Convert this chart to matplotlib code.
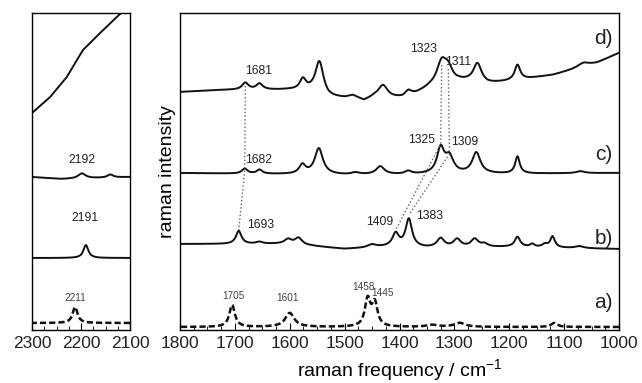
import numpy as np
import matplotlib
matplotlib.use("Agg")
import matplotlib.pyplot as plt
from matplotlib.ticker import MultipleLocator

plt.rcParams['font.family'] = ['Liberation Sans', 'DejaVu Sans']
plt.rcParams['mathtext.fontset'] = 'custom'
plt.rcParams['mathtext.rm'] = 'Liberation Sans'

# ---- panneau droit (1800-1000 cm-1), intensites en unites arbitraires ----
# spectre d)
d_fond_x = [1800, 1720, 1600, 1560, 1530, 1500, 1485, 1465, 1445, 1415, 1395, 1370,
            1345, 1290, 1275, 1240, 1210, 1170, 1120, 1080, 1040, 1000]
d_fond_y = [238, 240, 240, 238, 232, 232, 234, 229, 233, 232, 232, 236,
            242, 248, 248, 246, 248, 251, 255, 261, 267, 277]
d_pos = [1681, 1655, 1576, 1546, 1430, 1384, 1323, 1311, 1258, 1185, 1065]
d_haut = [7, 6, 11, 33, 12, 5, 23, 12, 19, 15, 4]
d_larg = [7, 7, 7, 9, 10, 7, 11, 9, 9, 6, 12]

# spectre c)
c_fond_x = [1800, 1500, 1000]
c_fond_y = [157, 155, 157]
c_pos = [1682, 1655, 1577, 1547, 1480, 1435, 1384, 1325, 1309, 1260, 1185, 1070]
c_haut = [5, 4, 9, 26, 2, 8, 3, 25, 16, 21, 17, 2]
c_larg = [6, 6, 7, 9, 9, 9, 7, 8, 9, 9, 5, 9]

# spectre b)
b_fond_x = [1800, 1620, 1560, 1500, 1460, 1420, 1350, 1200, 1100, 1000]
b_fond_y = [86, 86, 84, 81, 82, 83, 82, 83, 82, 81]
b_pos = [1693, 1655, 1603, 1584, 1450, 1407, 1383, 1325, 1295, 1263, 1245,
         1185, 1158, 1135, 1121, 1072]
b_haut = [13, 2, 5, 7, 3, 13, 28, 9, 8, 8, 3, 10, 3, 3, 11, 2]
b_larg = [6, 7, 8, 8, 9, 7, 7, 8, 8, 8, 7, 6, 5, 6, 5, 9]

# spectre a) (pointille)
a_fond_x = [1800, 1000]
a_fond_y = [3, 3]
a_pos = [1705, 1600, 1458, 1445, 1340, 1290, 1118]
a_haut = [22, 14, 27, 23, 2, 4, 4]
a_larg = [6, 10, 6, 6, 12, 12, 7]

# ---- panneau gauche (2300-2100 cm-1) ----
gd_x = [2300, 2263, 2229, 2196, 2161, 2127, 2100]
gd_y = [217, 233, 253, 280, 297, 313, 325]

gc_fond_x = [2300, 2240, 2100]
gc_fond_y = [153, 151, 153]
gc_pos = [2198, 2140]
gc_haut = [5, 3]
gc_larg = [9, 7]

gb_fond_x = [2300, 2100]
gb_fond_y = [72, 72]
gb_pos = [2190]
gb_haut = [13]
gb_larg = [6]

ga_fond_x = [2300, 2100]
ga_fond_y = [7, 7]
ga_pos = [2212]
ga_haut = [16]
ga_larg = [6]

# etiquettes des pics : texte, position, intensite
pics_txt = ["1681", "1682", "1693", "1323", "1311", "1325", "1309", "1409", "1383"]
pics_x = [1656, 1656, 1653, 1356, 1293, 1360, 1282, 1436, 1345]
pics_y = [259, 170, 105, 281, 268, 190, 188, 108, 114]

pics_a_txt = ["1705", "1601", "1458", "1445"]
pics_a_x = [1702, 1604, 1465, 1431]
pics_a_y = [34, 32, 43, 37]

gauche_txt = ["2192", "2191"]
gauche_x = [2198, 2192]
gauche_y = [170, 112]

lettres = ["d)", "c)", "b)", "a)"]
lettres_y = [292, 175, 92, 27]

# lignes pointillees reliant les pics
lien1_x = [1681, 1682, 1693]
lien1_y = [244, 160, 100]
lien2_x = [1323, 1325, 1407]
lien2_y = [265, 186, 100]
lien3_x = [1311, 1309, 1383]
lien3_y = [261, 176, 115]


def spectre(x, fond_x, fond_y, pos, haut, larg):
    """ligne de base + somme de lorentziennes"""
    ordre = np.argsort(fond_x)
    y = np.interp(x, np.array(fond_x)[ordre], np.array(fond_y)[ordre])
    for p, h, w in zip(pos, haut, larg):
        y = y + h / (1 + ((x - p) / w) ** 2)
    return y


def regler_axe(ax, xmin, xmax):
    ax.set_xlim(xmin, xmax)
    ax.set_ylim(0, 317)
    ax.set_yticks([])
    ax.xaxis.set_major_locator(MultipleLocator(100))
    ax.xaxis.set_minor_locator(MultipleLocator(25))
    ax.tick_params(axis='x', which='major', direction='in', length=5, labelsize=12.5,
                   pad=4, labelcolor='#222222')
    ax.tick_params(axis='x', which='minor', direction='in', length=3)
    for s in ax.spines.values():
        s.set_linewidth(1.0)


def main():
    fig = plt.figure(figsize=(6.42, 3.83), dpi=100)
    ax1 = fig.add_axes([32 / 642, 53 / 383, 98 / 642, 317 / 383])
    ax2 = fig.add_axes([180 / 642, 53 / 383, 439 / 642, 317 / 383])

    trait = dict(color='#111111', lw=1.4)
    tirets = dict(color='#111111', lw=1.8, linestyle=(0, (2.5, 1.2)))

    # panneau droit
    x = np.arange(1000, 1800.5, 1.0)
    ax2.plot(x, spectre(x, d_fond_x, d_fond_y, d_pos, d_haut, d_larg), **trait)
    ax2.plot(x, spectre(x, c_fond_x, c_fond_y, c_pos, c_haut, c_larg), **trait)
    ax2.plot(x, spectre(x, b_fond_x, b_fond_y, b_pos, b_haut, b_larg), **trait)
    ax2.plot(x, spectre(x, a_fond_x, a_fond_y, a_pos, a_haut, a_larg), **tirets)

    for lx, ly in [(lien1_x, lien1_y), (lien2_x, lien2_y), (lien3_x, lien3_y)]:
        ax2.plot(lx, ly, color='#666666', lw=1.0, linestyle=':')

    for t, px, py in zip(pics_txt, pics_x, pics_y):
        ax2.text(px, py, t, fontsize=8.7, color='#222222', ha='center', va='center')
    for t, px, py in zip(pics_a_txt, pics_a_x, pics_a_y):
        ax2.text(px, py, t, fontsize=7.2, color='#444444', ha='center', va='center')
    for t, py in zip(lettres, lettres_y):
        ax2.text(1028, py, t, fontsize=15, color='#222222', ha='center', va='center')

    regler_axe(ax2, 1800, 1000)
    ax2.set_xlabel("raman frequency / cm$^{-1}$", fontsize=14, labelpad=5)
    ax2.set_ylabel("raman intensity", fontsize=14, labelpad=3)

    # panneau gauche
    xg = np.arange(2100, 2300.5, 1.0)
    ax1.plot(gd_x, gd_y, **trait)
    ax1.plot(xg, spectre(xg, gc_fond_x, gc_fond_y, gc_pos, gc_haut, gc_larg), **trait)
    ax1.plot(xg, spectre(xg, gb_fond_x, gb_fond_y, gb_pos, gb_haut, gb_larg), **trait)
    ax1.plot(xg, spectre(xg, ga_fond_x, ga_fond_y, ga_pos, ga_haut, ga_larg), **tirets)
    for t, px, py in zip(gauche_txt, gauche_x, gauche_y):
        ax1.text(px, py, t, fontsize=8.7, color='#222222', ha='center', va='center')
    ax1.text(2212, 32, "2211", fontsize=7.2, color='#444444', ha='center', va='center')
    regler_axe(ax1, 2300, 2100)

    fig.savefig("out.png", dpi=100)


if __name__ == "__main__":
    main()
